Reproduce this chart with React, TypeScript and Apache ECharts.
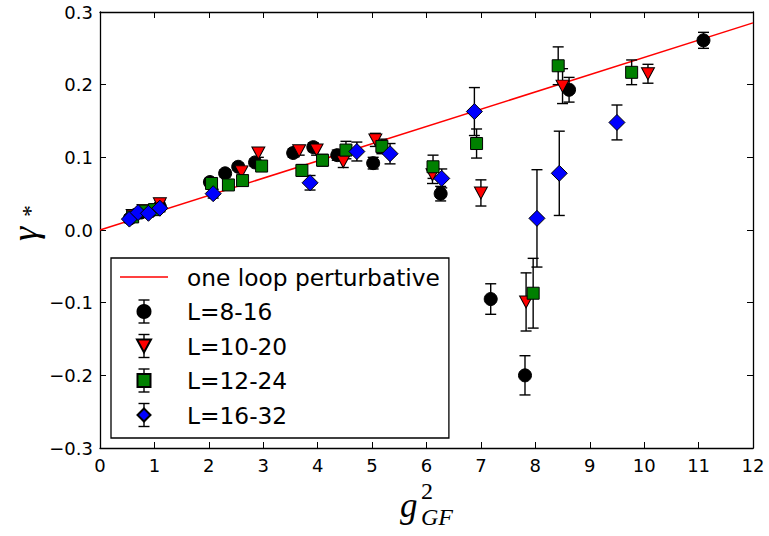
import React, { useEffect, useRef } from "react";
import * as echarts from "echarts";

// x ticks / y ticks
const xTicks = [0, 12, 1];
const yTicks = [-0.3, 0.3, 0.1];

// one loop perturbative line end points
const lineX = [0, 12];
const lineY = [0, 0.285];

// [g2, gamma, error]
const L8_16 = [
  [0.55, 0.016, 0.005], [0.75, 0.024, 0.005], [0.95, 0.027, 0.005], [1.1, 0.032, 0.006],
  [2.02, 0.066, 0.005], [2.3, 0.078, 0.005], [2.54, 0.087, 0.005], [2.85, 0.093, 0.005],
  [3.55, 0.106, 0.006], [3.92, 0.114, 0.006], [4.36, 0.103, 0.007], [5.02, 0.092, 0.008],
  [6.26, 0.05, 0.01], [7.18, -0.095, 0.021], [7.81, -0.2, 0.027], [8.62, 0.193, 0.017],
  [11.09, 0.261, 0.011],
];
const L10_20 = [
  [0.6, 0.02, 0.005], [0.8, 0.027, 0.005], [1.1, 0.036, 0.005], [2.6, 0.08, 0.006],
  [2.91, 0.106, 0.006], [3.66, 0.109, 0.006], [3.98, 0.11, 0.007], [4.47, 0.094, 0.008],
  [5.06, 0.124, 0.009], [6.11, 0.076, 0.012], [7.0, 0.051, 0.018], [7.83, -0.099, 0.04],
  [8.5, 0.198, 0.024], [10.07, 0.215, 0.013],
];
const L12_24 = [
  [0.6, 0.018, 0.005], [0.8, 0.026, 0.005], [1.0, 0.028, 0.005], [2.05, 0.064, 0.005],
  [2.36, 0.062, 0.005], [2.62, 0.068, 0.006], [2.97, 0.088, 0.006], [3.71, 0.082, 0.008],
  [4.09, 0.096, 0.008], [4.52, 0.11, 0.012], [5.18, 0.115, 0.01], [6.12, 0.087, 0.016],
  [6.92, 0.119, 0.02], [7.96, -0.087, 0.048], [8.42, 0.226, 0.026], [9.77, 0.217, 0.017],
];
const L16_32 = [
  [0.54, 0.015, 0.005], [0.7, 0.024, 0.005], [0.89, 0.023, 0.005], [1.1, 0.03, 0.005],
  [2.08, 0.05, 0.006], [3.86, 0.065, 0.01], [4.72, 0.108, 0.013], [5.33, 0.105, 0.014],
  [6.28, 0.071, 0.013], [6.88, 0.163, 0.033], [8.03, 0.016, 0.067], [8.44, 0.078, 0.058],
  [9.5, 0.148, 0.024],
];

const lineName = "one loop perturbative";
const seriesNames = ["L=8-16", "L=10-20", "L=12-24", "L=16-32"];
const seriesData = [L8_16, L10_20, L12_24, L16_32];
const colors = ["#000000", "#ff0000", "#008000", "#0000ff"];
const symbols = ["circle", "triangle", "rect", "diamond"];
const symbolSizes: any[] = [13, [13, 12], 12, 16];
const rotates = [0, 180, 0, 0];
const legendIcons = [
  "circle",
  "path://M0,0 L13,0 L6.5,12 Z",
  "path://M0,0 L12,0 L12,12 L0,12 Z",
  "path://M8,0 L16,8 L8,16 L0,8 Z",
];

// legend row centres (px) for the error-bar overlay
const legendRows = [311.5, 346, 380.5, 415];

export default function App() {
  const ref = useRef<HTMLDivElement>(null);
  useEffect(() => {
    const chart = echarts.init(ref.current!, null, { renderer: "svg" });
    const font = "DejaVu Sans";
    const errSeries = (data: number[][], i: number) => ({
      type: "custom",
      name: "err" + i,
      data,
      encode: { x: 0, y: 1 },
      z: 2,
      renderItem: (params: any, api: any) => {
        const x = api.value(0), y = api.value(1), e = api.value(2);
        const t = api.coord([x, y + e]);
        const b = api.coord([x, y - e]);
        const c = 5.5;
        const st = { stroke: "#000", lineWidth: 1.4 };
        return {
          type: "group",
          children: [
            { type: "line", shape: { x1: t[0], y1: t[1], x2: b[0], y2: b[1] }, style: st },
            { type: "line", shape: { x1: t[0] - c, y1: t[1], x2: t[0] + c, y2: t[1] }, style: st },
            { type: "line", shape: { x1: b[0] - c, y1: b[1], x2: b[0] + c, y2: b[1] }, style: st },
          ],
        };
      },
    });
    const series: any[] = [
      {
        type: "line",
        name: lineName,
        data: lineX.map((x, i) => [x, lineY[i]]),
        symbol: "none",
        lineStyle: { color: "#ff0000", width: 1.5 },
        itemStyle: { color: "#ff0000" },
        z: 1,
      },
    ];
    seriesData.forEach((d, i) => {
      series.push(errSeries(d, i));
      series.push({
        type: "scatter",
        name: seriesNames[i],
        data: d.map((p) => [p[0], p[1]]),
        symbol: symbols[i],
        symbolSize: symbolSizes[i],
        symbolRotate: rotates[i],
        itemStyle: { color: colors[i], borderColor: "#000", borderWidth: 1, opacity: 1 },
        z: 3,
      });
    });
    const axisCommon = {
      axisLine: { show: true, onZero: false, lineStyle: { color: "#000", width: 1.3 } },
      axisTick: { show: true, inside: true, length: 6, lineStyle: { color: "#000", width: 1 } },
      splitLine: { show: false },
    };
    const graphics: any[] = [];
    legendRows.forEach((cy) => {
      const st = { stroke: "#000", lineWidth: 1.4 };
      graphics.push({ type: "line", z: 1, shape: { x1: 144, y1: cy - 11.5, x2: 144, y2: cy + 11.5 }, style: st });
      graphics.push({ type: "line", z: 1, shape: { x1: 138.5, y1: cy - 11.5, x2: 149.5, y2: cy - 11.5 }, style: st });
      graphics.push({ type: "line", z: 1, shape: { x1: 138.5, y1: cy + 11.5, x2: 149.5, y2: cy + 11.5 }, style: st });
    });
    // axis titles
    graphics.push({
      type: "text",
      x: 400,
      y: 505,
      style: { text: "g", font: "italic 35px 'Liberation Serif'", fill: "#000", verticalAlign: "middle" },
    });
    graphics.push({
      type: "text",
      x: 421,
      y: 491,
      style: { text: "2", font: "24px 'Liberation Serif'", fill: "#000", verticalAlign: "middle" },
    });
    graphics.push({
      type: "text",
      x: 421,
      y: 517,
      style: { text: "GF", font: "italic 24px 'Liberation Serif'", fill: "#000", verticalAlign: "middle" },
    });
    graphics.push({
      type: "text",
      x: 25,
      y: 241,
      rotation: Math.PI / 2,
      style: { text: "γ", font: "italic 36px 'Liberation Serif'", fill: "#000", verticalAlign: "middle" },
    });
    graphics.push({
      type: "text",
      x: 30,
      y: 217,
      rotation: Math.PI / 2,
      style: { text: "*", font: "24px 'Liberation Serif'", fill: "#000", verticalAlign: "middle" },
    });

    chart.setOption({
      animation: false,
      backgroundColor: "#fff",
      grid: { left: 100, right: 16, top: 12, bottom: 88, containLabel: false },
      xAxis: [
        {
          type: "value",
          min: xTicks[0],
          max: xTicks[1],
          interval: xTicks[2],
          position: "bottom",
          ...axisCommon,
          axisLabel: { color: "#000", fontSize: 18, fontFamily: font, margin: 8 },
        },
        {
          type: "value",
          min: xTicks[0],
          max: xTicks[1],
          interval: xTicks[2],
          position: "top",
          ...axisCommon,
          axisLabel: { show: false },
        },
      ],
      yAxis: [
        {
          type: "value",
          min: yTicks[0],
          max: yTicks[1],
          interval: yTicks[2],
          position: "left",
          ...axisCommon,
          axisLabel: {
            color: "#000",
            fontSize: 18,
            fontFamily: font,
            margin: 7,
            formatter: (v: number) => (v < -1e-9 ? "−" : "") + Math.abs(v).toFixed(1),
          },
        },
        {
          type: "value",
          min: yTicks[0],
          max: yTicks[1],
          interval: yTicks[2],
          position: "right",
          ...axisCommon,
          axisLabel: { show: false },
        },
      ],
      legend: {
        orient: "vertical",
        left: 111,
        top: 258,
        padding: [7.5, 9, 11.5, 9],
        itemGap: 11.5,
        itemWidth: 48,
        itemHeight: 13,
        borderColor: "#000",
        borderWidth: 1.3,
        borderRadius: 0,
        backgroundColor: "transparent",
        textStyle: { color: "#000", fontSize: 23.3, fontFamily: font, lineHeight: 23, padding: [0, 0, 0, 14] },
        data: [
          { name: lineName, icon: "path://M0,0 L48,0 L48,1.5 L0,1.5 Z", itemStyle: { color: "#ff0000", borderWidth: 0 } },
          ...seriesNames.map((n, i) => ({ name: n, icon: legendIcons[i], symbolRotate: 0 })),
        ],
      },
      graphic: graphics,
      series,
    });
    return () => chart.dispose();
  }, []);
  return <div ref={ref} style={{ position: "absolute", left: 0, top: 0, width: 769, height: 536 }} />;
}
